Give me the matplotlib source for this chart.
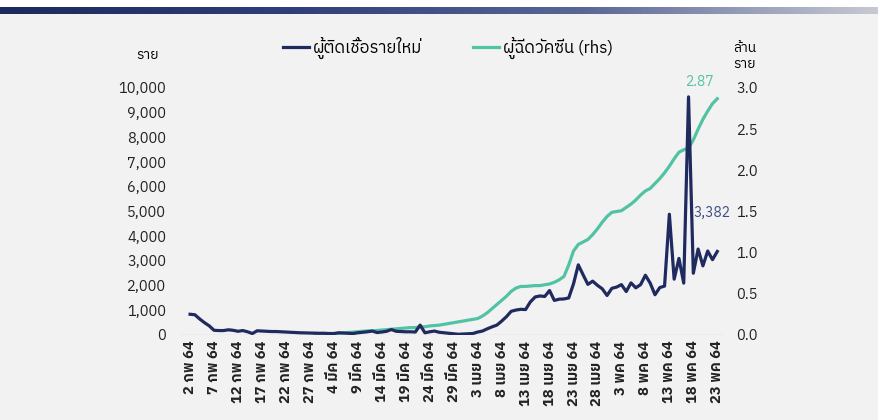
import numpy as np
import matplotlib
matplotlib.use("Agg")
import matplotlib.pyplot as plt
from matplotlib import font_manager

installed = {f.name for f in font_manager.fontManager.ttflist}
thai = [n for n in ['IBM Plex Sans Thai', 'Sarabun', 'Noto Sans Thai', 'Kanit'] if n in installed]
plt.rcParams['font.family'] = thai[:1] + ['DejaVu Sans']

# daily new cases, 2 Feb 64 .. 23 May 64
cases = [840, 820, 650, 500, 370, 190, 180, 180, 210, 190,
         150, 180, 130, 60, 170, 160, 150, 140, 140, 130,
         120, 110, 100, 90, 85, 80, 75, 70, 70, 60,
         60, 90, 80, 70, 60, 90, 110, 130, 160, 100,
         120, 150, 220, 150, 140, 130, 130, 120, 400, 90,
         130, 160, 110, 90, 70, 50, 30, 40, 50, 60,
         120, 160, 250, 330, 400, 560, 740, 960, 1010, 1040,
         1030, 1340, 1540, 1580, 1560, 1800, 1400, 1450, 1460, 1500,
         2070, 2840, 2440, 2050, 2180, 2010, 1870, 1600, 1890, 1940,
         2040, 1760, 2110, 1910, 2040, 2420, 2100, 1630, 1920, 1980,
         4890, 2260, 3100, 2100, 9640, 2500, 3480, 2800, 3400, 3050,
         3382]

# cumulative vaccinated (million), starts 28 Feb 64
vaccine = [np.nan] * 26 + [
    0.0, 0.002, 0.005, 0.01, 0.015, 0.02, 0.025, 0.03, 0.035, 0.04,
    0.045, 0.05, 0.05, 0.055, 0.06, 0.065, 0.07, 0.075, 0.08, 0.085,
    0.09, 0.09, 0.10, 0.10, 0.11, 0.115, 0.12, 0.13, 0.14, 0.15,
    0.16, 0.17, 0.18, 0.19, 0.20, 0.23, 0.27, 0.32, 0.37, 0.42,
    0.47, 0.53, 0.57, 0.59, 0.59, 0.595, 0.60, 0.60, 0.61, 0.62,
    0.64, 0.67, 0.71, 0.85, 1.02, 1.10, 1.13, 1.16, 1.22, 1.29,
    1.37, 1.44, 1.49, 1.50, 1.51, 1.55, 1.59, 1.64, 1.70, 1.75,
    1.78, 1.84, 1.90, 1.97, 2.05, 2.14, 2.22, 2.25, 2.27, 2.37,
    2.50, 2.62, 2.72, 2.81, 2.87]

tick_labels = ['2 กพ 64', '7 กพ 64', '12 กพ 64', '17 กพ 64', '22 กพ 64',
               '27 กพ 64', '4 มีค 64', '9 มีค 64', '14 มีค 64', '19 มีค 64',
               '24 มีค 64', '29 มีค 64', '3 เมย 64', '8 เมย 64', '13 เมย 64',
               '18 เมย 64', '23 เมย 64', '28 เมย 64', '3 พค 64', '8 พค 64',
               '13 พค 64', '18 พค 64', '23 พค 64']

navy = '#1f2a5e'
teal = '#52c2a5'
bg = '#f2f2f2'

days = np.arange(len(cases))

fig = plt.figure(figsize=(8.79, 4.2), dpi=100)
fig.patch.set_facecolor(bg)

# white strip and gradient band at the very top
top = fig.add_axes([0, 1 - 7 / 420, 1, 7 / 420])
top.set_axis_off()
top.add_patch(plt.Rectangle((0, 0), 1, 1, color='white', transform=top.transAxes))
band = fig.add_axes([0, 1 - 14 / 420, 1, 7 / 420])
band.set_axis_off()
grad = np.linspace(0, 1, 256).reshape(1, -1)
cm = matplotlib.colors.LinearSegmentedColormap.from_list(
    'band', ['#1c2b5c', '#2f3f78', '#5a6796', '#c8cad2'])
band.imshow(grad, aspect='auto', cmap=cm)

ax = fig.add_axes([180 / 879, 85 / 420, 544 / 879, 247 / 420])
ax2 = ax.twinx()

ax.plot(days, cases, color=navy, lw=2.3, zorder=3, label='ผู้ติดเชื้อรายใหม่')
ax2.plot(days, vaccine, color=teal, lw=2.3, label='ผู้ฉีดวัคซีน (rhs)')
ax.set_zorder(ax2.get_zorder() + 1)
ax.patch.set_visible(False)
ax2.set_facecolor(bg)

ax.set_xlim(-2.1, 111.4)
ax.set_ylim(0, 10000)
ax2.set_ylim(0, 3.0)
ax.set_yticks(np.arange(0, 10001, 1000))
ax.set_yticklabels([f'{v:,}' for v in range(0, 10001, 1000)])
ax2.set_yticks(np.arange(0, 3.01, 0.5))
ax2.set_yticklabels([f'{v:.1f}' for v in np.arange(0, 3.01, 0.5)])
ax.set_xticks(days[::5])
ax.set_xticklabels(tick_labels, rotation=90, fontweight='bold')

for a in (ax, ax2):
    for s in a.spines.values():
        s.set_visible(False)
    a.tick_params(length=0, labelsize=10.5, colors='#222222')
ax.tick_params(axis='y', pad=10)
ax2.tick_params(axis='y', pad=9)
ax.tick_params(axis='x', pad=4)
ax.axhline(0, color='#d0d0d0', lw=1, zorder=1)

fig.text(148 / 879, 1 - 55 / 420, 'ราย', fontsize=10, ha='center', va='center')
fig.text(745 / 879, 1 - 56 / 420, 'ล้าน\nราย', fontsize=10, ha='center',
         va='center', linespacing=1.1)

ax2.annotate('2.87', (days[-1], vaccine[-1]), xytext=(-13, 9),
             textcoords='offset points', color=teal, fontsize=10, ha='center')
ax.annotate('3,382', (days[-1], cases[-1]), xytext=(-4, 25),
            textcoords='offset points', color='#3b4a80', fontsize=10, ha='center')

h1, l1 = ax.get_legend_handles_labels()
h2, l2 = ax2.get_legend_handles_labels()
fig.legend(h1 + h2, l1 + l2, loc='center', bbox_to_anchor=(448 / 879, 1 - 48 / 420),
           ncol=2, frameon=False, fontsize=12, handlelength=1.6,
           handletextpad=0.25, columnspacing=3.0)

fig.savefig('out.png', dpi=100, facecolor=fig.get_facecolor())
